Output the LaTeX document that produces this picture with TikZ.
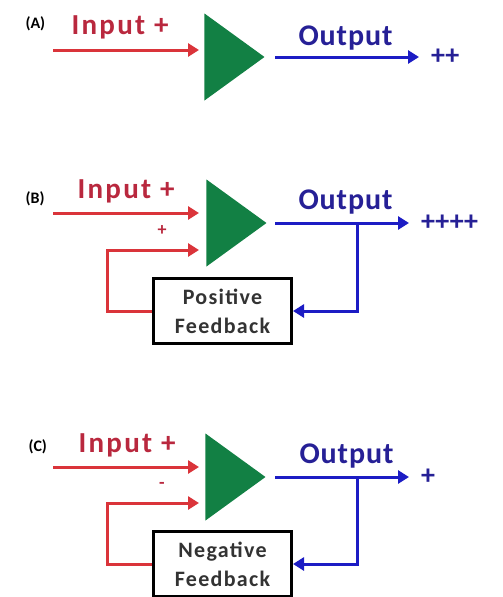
\documentclass[tikz,border=0pt]{standalone}
\usepackage{fontspec}
\setmainfont{Carlito}
\usetikzlibrary{shapes.geometric,arrows.meta,positioning}

\definecolor{inred}{RGB}{218,52,58}
\definecolor{inredtext}{RGB}{185,40,62}
\definecolor{outblue}{RGB}{28,28,196}
\definecolor{outbluetext}{RGB}{38,32,150}
\definecolor{ampgreen}{RGB}{18,128,68}

\tikzset{
  amp/.style={isosceles triangle, isosceles triangle stretches, fill=ampgreen,
    inner sep=0pt, minimum width=87pt, minimum height=60pt, anchor=apex},
  inwire/.style={draw=inred, line width=3pt},
  outwire/.style={draw=outblue, line width=3pt},
  tip/.style={-{Triangle[length=11pt,width=13pt]}},
  fbbox/.style={draw=black, line width=3pt, fill=white, inner sep=0pt,
    minimum width=138pt, minimum height=65pt, align=center, text=black!80,
    font=\bfseries\fontsize{22}{29}\selectfont\addfontfeature{LetterSpace=6}},
  panellabel/.style={anchor=base west, font=\bfseries\fontsize{16}{18}\selectfont},
  intext/.style={anchor=base west, text=inredtext,
    font=\bfseries\fontsize{29}{30}\selectfont\addfontfeature{LetterSpace=8}},
  outtext/.style={anchor=base west, text=outbluetext,
    font=\bfseries\fontsize{30}{30}\selectfont\addfontfeature{LetterSpace=3}},
  signtext/.style={inner sep=0pt, font=\bfseries\fontsize{18}{18}\selectfont},
  gaintext/.style={inner sep=0pt, text=outbluetext,
    font=\bfseries\fontsize{28}{28}\selectfont},
}

\begin{document}
\begin{tikzpicture}[x=1pt, y=-1pt]
  \useasboundingbox (0,0) rectangle (503,597);

  % ---------- (A) plain amplifier ----------
  \node[panellabel] (labA) at (22,28) {(A)};
  \node[amp] (ampA) at (265,57) {};
  \coordinate (inA) at (53,50);
  \coordinate (inAend) at (199,50);
  \coordinate (outA) at (275,57);
  \coordinate (outAend) at (419,57);
  \draw[inwire, tip] (inA) -- (inAend);
  \draw[outwire, tip] (outA) -- (outAend);
  \node[intext] (txtInA) at (68,34) {Input +};
  \node[outtext] (txtOutA) at (295,45) {Output};
  \node[gaintext, right=12pt of outAend] (gainA) {++};

  % ---------- (B) positive feedback ----------
  \node[panellabel] (labB) at (22,203) {(B)};
  \node[amp] (ampB) at (267,223) {};
  \coordinate (inB) at (53,213);
  \coordinate (inBend) at (199,213);
  \coordinate (fbBend) at (199,250);
  \coordinate (outB) at (275,223);
  \coordinate (outBend) at (409,223);
  \coordinate (tapB) at (357,223);
  \node[fbbox] (fbB) at (222.5,311) {Positive\\Feedback};
  \draw[inwire, tip] (inB) -- (inBend);
  \draw[inwire, tip] (fbB.west) -- ++(-45,0) |- (fbBend);
  \draw[outwire, tip] (outB) -- (outBend);
  \draw[outwire, tip] (tapB) |- (fbB.east);
  \node[intext] (txtInB) at (74,198) {Input +};
  \node[outtext] (txtOutB) at (295,209) {Output};
  \node[signtext, text=inredtext] (signB) at (162,231) {+};
  \node[gaintext, right=12pt of outBend] (gainB) {++++};

  % ---------- (C) negative feedback ----------
  \node[panellabel] (labC) at (25,451) {(C)};
  \node[amp] (ampC) at (266,477) {};
  \coordinate (inC) at (53,467);
  \coordinate (inCend) at (199,467);
  \coordinate (fbCend) at (199,503);
  \coordinate (outC) at (275,477);
  \coordinate (outCend) at (409,477);
  \coordinate (tapC) at (357,477);
  \node[fbbox] (fbC) at (222.5,564) {Negative\\Feedback};
  \draw[inwire, tip] (inC) -- (inCend);
  \draw[inwire, tip] (fbC.west) -- ++(-45,0) |- (fbCend);
  \draw[outwire, tip] (outC) -- (outCend);
  \draw[outwire, tip] (tapC) |- (fbC.east);
  \node[intext] (txtInC) at (75,452) {Input +};
  \node[outtext] (txtOutC) at (296,463) {Output};
  \node[signtext, text=inredtext] (signC) at (162,485) {-};
  \node[gaintext, right=12pt of outCend] (gainC) {+};

\end{tikzpicture}
\end{document}
